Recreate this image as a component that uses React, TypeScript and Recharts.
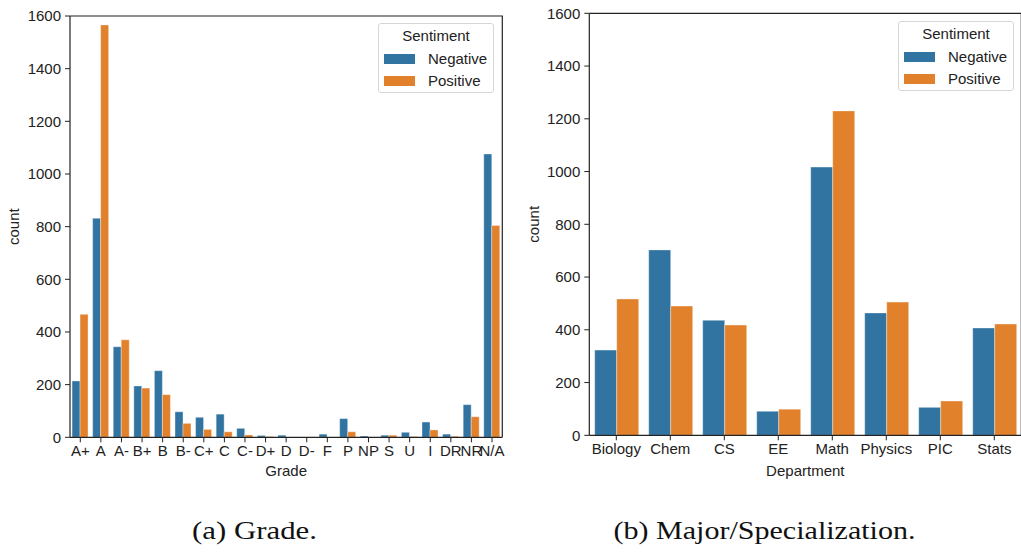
import React from 'react';
import { BarChart, Bar, XAxis, YAxis, ReferenceArea } from 'recharts';

const grades = ['A+', 'A', 'A-', 'B+', 'B', 'B-', 'C+', 'C', 'C-', 'D+', 'D', 'D-', 'F', 'P', 'NP', 'S', 'U', 'I', 'DR', 'NR', 'N/A'];
const gradeNegative = [214, 832, 344, 195, 253, 97, 76, 88, 34, 7, 8, 0, 12, 71, 5, 8, 19, 58, 12, 124, 1076];
const gradePositive = [467, 1566, 370, 187, 162, 53, 30, 21, 9, 3, 0, 0, 1, 21, 1, 8, 3, 28, 4, 78, 804];

const departments = ['Biology', 'Chem', 'CS', 'EE', 'Math', 'Physics', 'PIC', 'Stats'];
const deptNegative = [323, 703, 436, 91, 1017, 464, 106, 407];
const deptPositive = [517, 490, 418, 99, 1230, 505, 130, 422];

const seriesNames = ['Negative', 'Positive'];
const seriesColors = ['#3274a1', '#e1812c'];
const legendTitle = 'Sentiment';
const yTicks = [0, 200, 400, 600, 800, 1000, 1200, 1400, 1600];

const gradeData = grades.map((g, i) => ({ cat: g, Negative: gradeNegative[i], Positive: gradePositive[i] }));
const deptData = departments.map((d, i) => ({ cat: d, Negative: deptNegative[i], Positive: deptPositive[i] }));

const FONT = '"Liberation Sans", Arial, sans-serif';
const INK = '#222';
const tickStyle = { fontSize: 15, fill: INK, fontFamily: FONT };

function LegendBox({ left, top }: { left: number; top: number }) {
  return (
    <div
      style={{
        position: 'absolute',
        left,
        top,
        width: 116,
        height: 70,
        boxSizing: 'border-box',
        border: '1px solid #d6d6d6',
        borderRadius: 3,
        background: 'rgba(255,255,255,0.85)',
        fontFamily: FONT,
        fontSize: 15,
        color: INK,
      }}
    >
      <div style={{ position: 'absolute', left: 0, width: '100%', top: 3, textAlign: 'center', lineHeight: '18px' }}>{legendTitle}</div>
      {seriesNames.map((n, i) => (
        <div key={n} style={{ position: 'absolute', left: 5, top: 26 + i * 22, height: 18, display: 'flex', alignItems: 'center' }}>
          <div style={{ width: 31, height: 10.5, background: seriesColors[i] }} />
          <span style={{ marginLeft: 13, lineHeight: '18px' }}>{n}</span>
        </div>
      ))}
    </div>
  );
}

const spineShape = (p: any) => {
  const { x, y, width, height } = p;
  return <path d={`M ${x} ${y} H ${x + width} V ${y + height}`} fill="none" stroke={INK} strokeWidth={1.2} />;
};

function CountPanel({
  data,
  width,
  height,
  margin,
  yWidth,
  xLabel,
  xLabelOffset,
}: {
  data: any[];
  width: number;
  height: number;
  margin: any;
  yWidth: number;
  xLabel: string;
  xLabelOffset: number;
}) {
  return (
    <BarChart width={width} height={height} data={data} margin={margin} barCategoryGap="10%" barGap={0}>
      <XAxis
        dataKey="cat"
        interval={0}
        tick={tickStyle}
        tickSize={5}
        tickMargin={3}
        height={50}
        axisLine={{ stroke: INK, strokeWidth: 1.2 }}
        tickLine={{ stroke: INK, strokeWidth: 1 }}
        label={{
          content: (p: any) => {
            const vb = p.viewBox || {};
            return (
              <text x={vb.x + vb.width / 2} y={vb.y + xLabelOffset} textAnchor="middle" dominantBaseline="central" style={tickStyle}>
                {xLabel}
              </text>
            );
          },
        }}
      />
      <YAxis
        domain={[0, 1600]}
        ticks={yTicks}
        width={yWidth}
        tick={tickStyle}
        tickSize={5}
        tickMargin={4}
        axisLine={{ stroke: INK, strokeWidth: 1.2 }}
        tickLine={{ stroke: INK, strokeWidth: 1 }}
        label={{
          content: (p: any) => {
            const vb = p.viewBox || {};
            const cx = vb.x + 13.5;
            const cy = vb.y + vb.height / 2;
            return (
              <text x={cx} y={cy} textAnchor="middle" dominantBaseline="central" transform={`rotate(-90, ${cx}, ${cy})`} style={tickStyle}>
                count
              </text>
            );
          },
        }}
      />
      {seriesNames.map((n, i) => (
        <Bar key={n} dataKey={n} fill={seriesColors[i]} stroke="#ffffff" strokeOpacity={0.45} strokeWidth={0.8} isAnimationActive={false} />
      ))}
      <ReferenceArea y1={0} y2={1600} ifOverflow="visible" shape={spineShape} />
    </BarChart>
  );
}

export default function App() {
  return (
    <div style={{ position: 'absolute', left: 0, top: 0, width: 1021, height: 552, overflow: 'hidden', background: '#fff' }}>
      <div style={{ position: 'absolute', left: 0, top: 0 }}>
        <CountPanel
          data={gradeData}
          width={520}
          height={500}
          margin={{ top: 16, right: 17.7, bottom: 12.7, left: 0 }}
          yWidth={70}
          xLabel="Grade"
          xLabelOffset={33}
        />
      </div>
      <div style={{ position: 'absolute', left: 520, top: 0 }}>
        <CountPanel
          data={deptData}
          width={502}
          height={500}
          margin={{ top: 13.3, right: 0.7, bottom: 14.7, left: 0 }}
          yWidth={69.3}
          xLabel="Department"
          xLabelOffset={35}
        />
      </div>
      <LegendBox left={378} top={23} />
      <LegendBox left={898} top={21} />
      <svg style={{ position: 'absolute', left: 0, top: 500 }} width={1021} height={52}>
        <text x={192} y={39} textLength={125} lengthAdjust="spacingAndGlyphs" style={{ fontFamily: '"Liberation Serif", serif', fontSize: 24.5, fill: '#111' }}>
          (a) Grade.
        </text>
        <text x={613.5} y={39} textLength={302} lengthAdjust="spacingAndGlyphs" style={{ fontFamily: '"Liberation Serif", serif', fontSize: 24.5, fill: '#111' }}>
          (b) Major/Specialization.
        </text>
      </svg>
    </div>
  );
}
